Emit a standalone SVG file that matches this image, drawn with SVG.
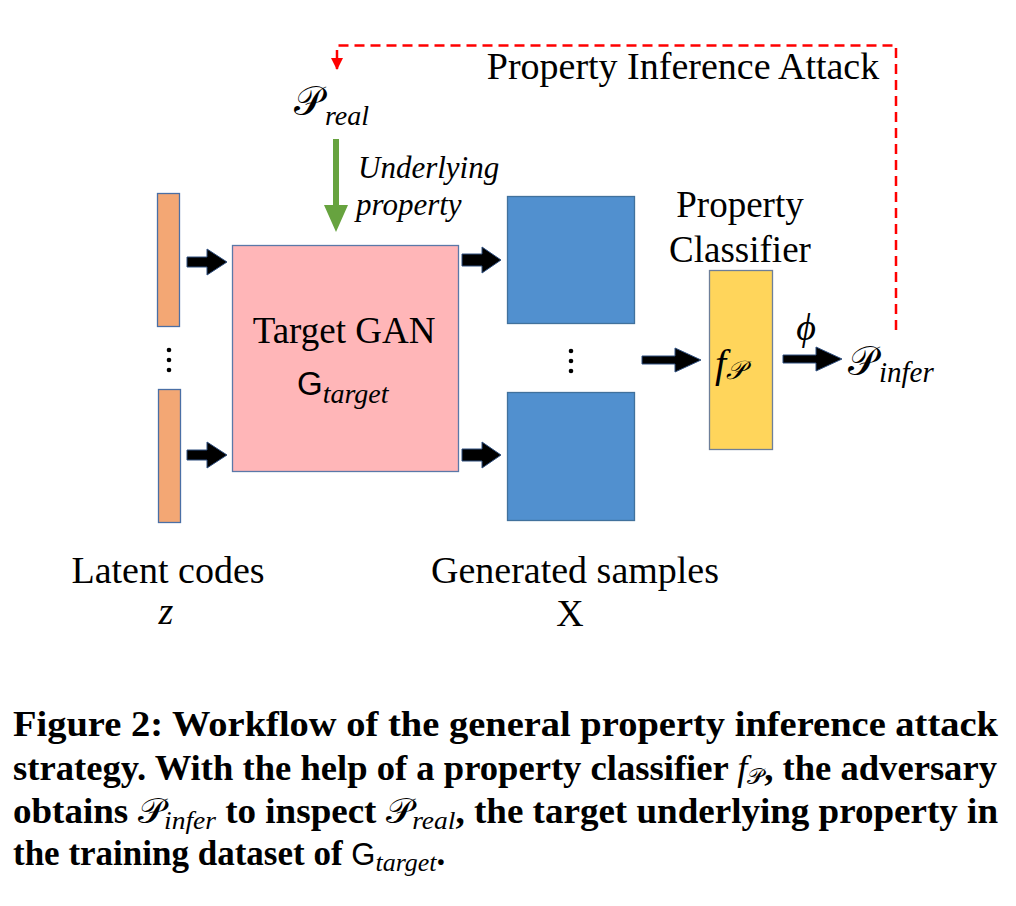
<svg xmlns="http://www.w3.org/2000/svg" width="1016" height="906" viewBox="0 0 1016 906">
<style>
.serif{font-family:"Liberation Serif","Times New Roman",serif;fill:#000}
.sans{font-family:"Liberation Sans",Arial,sans-serif;fill:#000}
.it{font-style:italic}
.lbl{font-size:38px}
.cap{font-family:"Liberation Serif","Times New Roman",serif;font-weight:bold;font-size:35px;fill:#000}
.blk{fill:#000;stroke:#2F4F7F;stroke-width:1}
.dot{fill:#000}
</style>
<defs>
<marker id="redhead" viewBox="0 0 12 12" refX="11" refY="6" markerWidth="12" markerHeight="12" markerUnits="userSpaceOnUse" orient="auto">
<path d="M0,0 L12,6 L0,12 Z" fill="#FF0000"/>
</marker>
</defs>
<rect width="1016" height="906" fill="#fff"/>

<g id="latent-top"><rect x="157.5" y="193.5" width="22" height="133" fill="#F3A774" stroke="#4A6FA5" stroke-width="1.3"/></g>
<g id="latent-bottom"><rect x="158.5" y="389.5" width="22" height="133" fill="#F3A774" stroke="#4A6FA5" stroke-width="1.3"/></g>
<g id="latent-dots"><circle class="dot" cx="169" cy="350" r="2.3"/><circle class="dot" cx="169" cy="360" r="2.3"/><circle class="dot" cx="169" cy="370" r="2.3"/></g>

<g id="target-gan">
<rect x="232.5" y="245.5" width="226" height="226" fill="#FFB6B8" stroke="#5A78A8" stroke-width="1.3"/>
<text class="serif" x="344" y="343" font-size="37" text-anchor="middle">Target GAN</text>
<text x="297" y="395"><tspan class="sans" font-size="33">G</tspan><tspan class="serif it" font-size="28" dy="8">target</tspan></text>
</g>

<g id="sample-top"><rect x="507.5" y="196.5" width="127" height="127" fill="#5190CF" stroke="#41719C" stroke-width="1.3"/></g>
<g id="sample-bottom"><rect x="507.5" y="392.5" width="127" height="128" fill="#5190CF" stroke="#41719C" stroke-width="1.3"/></g>
<g id="sample-dots"><circle class="dot" cx="571" cy="351" r="2.3"/><circle class="dot" cx="571" cy="361" r="2.3"/><circle class="dot" cx="571" cy="371" r="2.3"/></g>

<g id="classifier">
<text class="serif" x="740" y="217" font-size="37" text-anchor="middle">Property</text>
<text class="serif" x="740" y="262" font-size="37" text-anchor="middle">Classifier</text>
<rect x="709.5" y="270.5" width="63" height="179" fill="#FFD55B" stroke="#6E7F99" stroke-width="1.3"/>
<text x="715" y="377"><tspan class="serif it" font-size="40">f</tspan><tspan class="serif it" font-size="26" dy="2">𝒫</tspan></text>
</g>

<g id="p-real">
<text x="294" y="115"><tspan class="serif" font-size="40">𝒫</tspan><tspan class="serif it" font-size="28" dy="10" dx="2">real</tspan></text>
</g>

<g id="p-infer">
<text x="848" y="375"><tspan class="serif" font-size="40">𝒫</tspan><tspan class="serif it" font-size="29" dy="7" dx="2">infer</tspan></text>
</g>

<g id="labels">
<text class="serif lbl" x="168" y="583" text-anchor="middle">Latent codes</text>
<text class="serif it lbl" x="166" y="624" text-anchor="middle">z</text>
<text class="serif lbl" x="575" y="583" text-anchor="middle">Generated samples</text>
<text class="serif lbl" x="570" y="626" text-anchor="middle">X</text>
<text class="serif lbl" x="683" y="79" text-anchor="middle">Property Inference Attack</text>
<text class="serif it" x="358" y="178" font-size="31">Underlying</text>
<text class="serif it" x="356" y="215" font-size="31">property</text>
<text class="serif it" x="806" y="340" font-size="38" text-anchor="middle">ϕ</text>
</g>

<g id="connectors">
<path class="blk" d="M187,257 H207 V249 L227,262 L207,275 V267 H187 Z"/>
<path class="blk" d="M187,450 H207 V442 L227,455 L207,468 V460 H187 Z"/>
<path class="blk" d="M462,254 H482 V247 L501,260 L482,273 V266 H462 Z"/>
<path class="blk" d="M462,449 H482 V442 L501,455 L482,468 V461 H462 Z"/>
<path class="blk" d="M642,356 H675 V348 L701,360 L675,372 V364 H642 Z"/>
<path class="blk" d="M783,355 H816 V347 L842,359 L816,371 V363 H783 Z"/>
<path d="M333,139 H339 V205 H348 L336,232 L324,205 H333 Z" fill="#67A33F"/>
<path d="M896,330 V45.5 H337 V69" fill="none" stroke="#FF0000" stroke-width="2.5" stroke-dasharray="10,6" marker-end="url(#redhead)"/>
</g>

<g id="caption">
<text class="cap" x="13" y="736" textLength="985" lengthAdjust="spacingAndGlyphs">Figure 2:  Workflow of the general property inference attack</text>
<text class="cap" x="13" y="780" textLength="984" lengthAdjust="spacingAndGlyphs">strategy. With the help of a property classifier <tspan font-weight="normal" font-style="italic">f</tspan><tspan font-weight="normal" font-size="22" dy="4">𝒫</tspan><tspan dy="-4">, the adversary</tspan></text>
<text class="cap" x="13" y="823" textLength="985" lengthAdjust="spacingAndGlyphs">obtains <tspan font-weight="normal">𝒫</tspan><tspan font-weight="normal" font-style="italic" font-size="26" dy="6">infer</tspan><tspan dy="-6"> to inspect </tspan><tspan font-weight="normal">𝒫</tspan><tspan font-weight="normal" font-style="italic" font-size="26" dy="6">real</tspan><tspan dy="-6">, the target underlying property in</tspan></text>
<text class="cap" x="13" y="865">the training dataset of <tspan font-family="Liberation Sans, Arial, sans-serif" font-weight="normal" font-size="31">G</tspan><tspan font-weight="normal" font-style="italic" font-size="26" dy="6">target</tspan><tspan dy="-6">.</tspan></text>
</g>
</svg>
